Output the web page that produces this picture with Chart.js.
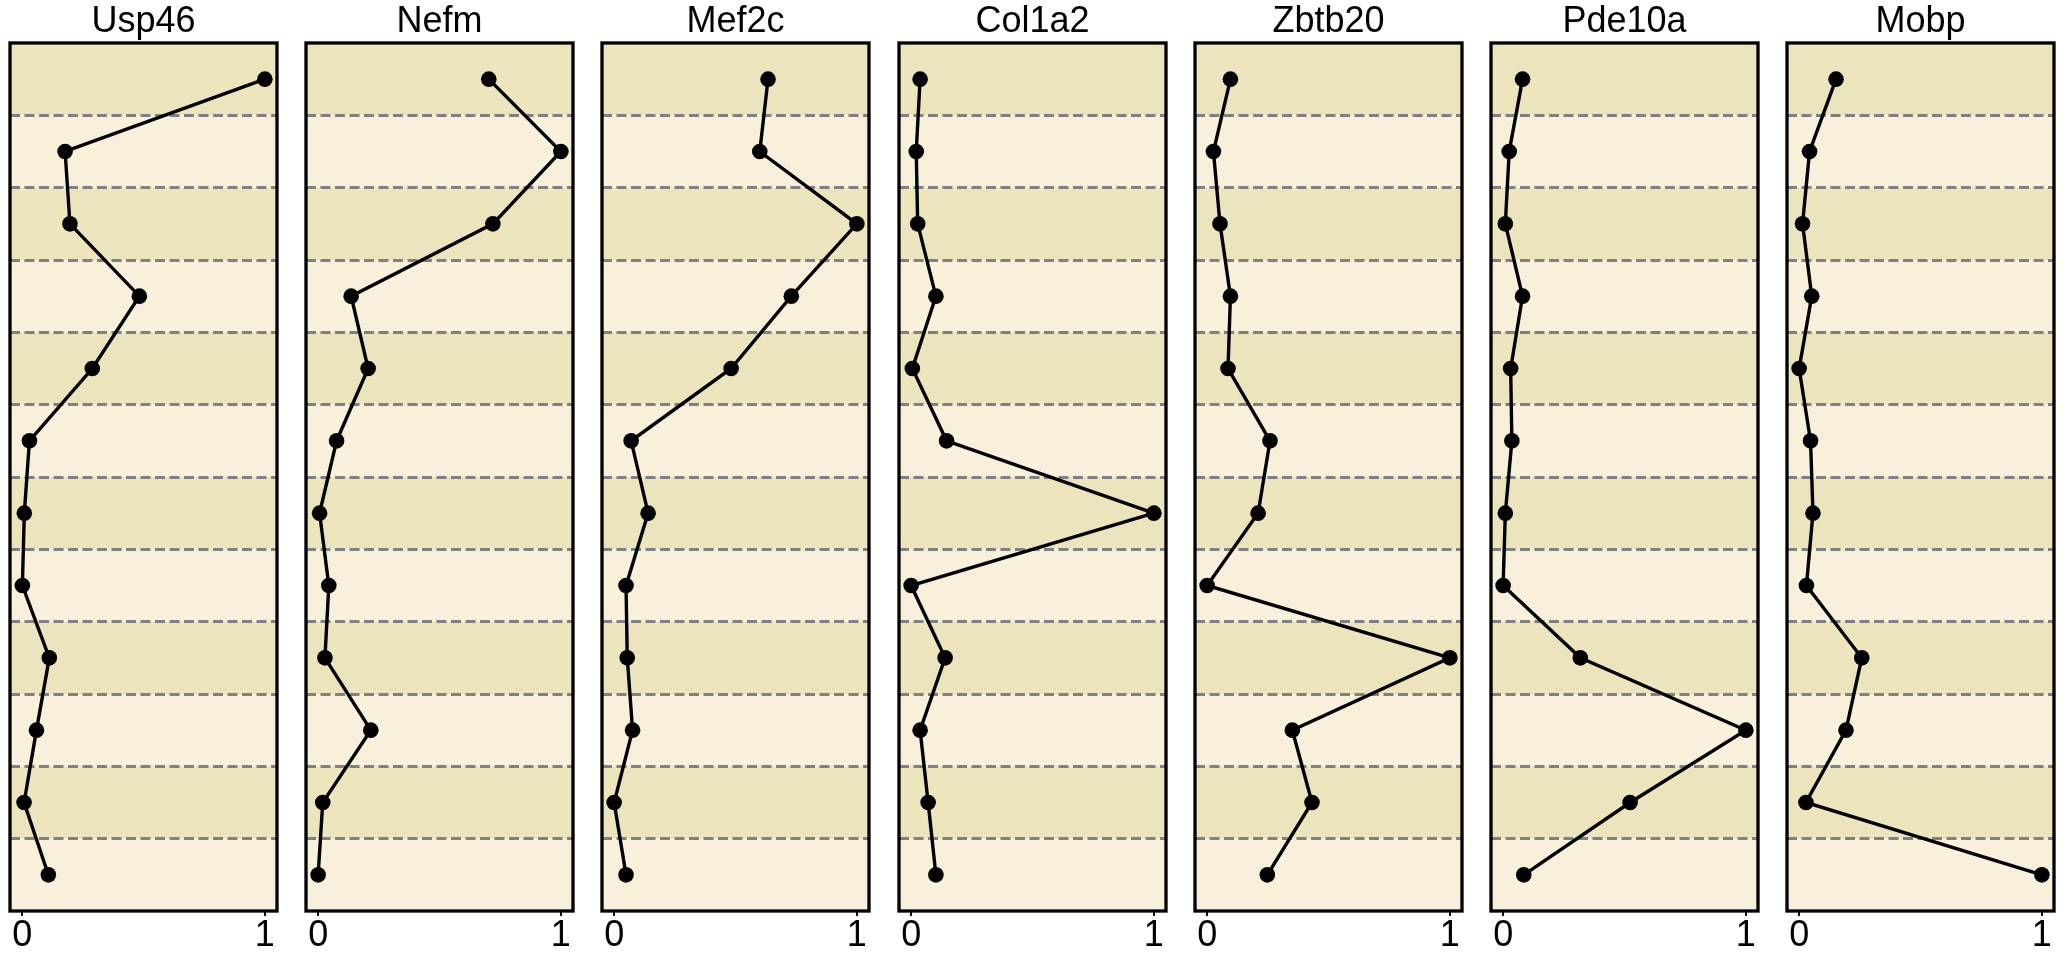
<!DOCTYPE html>
<html>
<head>
<meta charset="utf-8">
<script src="https://cdn.jsdelivr.net/npm/chart.js@4/dist/chart.umd.min.js"></script>
<style>
  html, body { margin: 0; padding: 0; background: #ffffff; }
  body { width: 2063px; height: 965px; position: relative; overflow: hidden; }
  canvas { position: absolute; top: 0; }
</style>
</head>
<body>
<script>
// ---- data ----
const genes = ["Usp46", "Nefm", "Mef2c", "Col1a2", "Zbtb20", "Pde10a", "Mobp"];
const rows = [1, 2, 3, 4, 5, 6, 7, 8, 9, 10, 11, 12];
const xTicks = [0, 1];

const usp46  = [1.0, 0.177, 0.197, 0.483, 0.289, 0.030, 0.009, 0.001, 0.112, 0.059, 0.008, 0.108];
const nefm   = [0.703, 1.0, 0.720, 0.136, 0.206, 0.076, 0.006, 0.044, 0.028, 0.217, 0.019, 0.0];
const mef2c  = [0.634, 0.600, 1.0, 0.730, 0.482, 0.070, 0.140, 0.049, 0.054, 0.076, 0.0, 0.049];
const col1a2 = [0.037, 0.021, 0.027, 0.102, 0.005, 0.146, 1.0, 0.0, 0.140, 0.037, 0.070, 0.102];
const zbtb20 = [0.096, 0.026, 0.053, 0.096, 0.086, 0.259, 0.210, 0.0, 1.0, 0.351, 0.432, 0.248];
const pde10a = [0.080, 0.025, 0.009, 0.080, 0.031, 0.036, 0.009, 0.0, 0.318, 1.0, 0.523, 0.085];
const mobp   = [0.152, 0.043, 0.014, 0.052, 0.0, 0.047, 0.057, 0.030, 0.258, 0.193, 0.028, 1.0];

const seriesList = [usp46, nefm, mef2c, col1a2, zbtb20, pde10a, mobp];

// ---- style / layout ----
const FONT = "'Liberation Sans', Arial, sans-serif";
const BAND_DARK = "#ECE4BC";
const BAND_LIGHT = "#F9F0DB";
const PANEL_W = 267;
const PAD = 15;
const PITCH = 296.17;
const FIRST_LEFT = 10;

const bandsPlugin = {
  id: 'bands',
  beforeDraw(chart) {
    const { ctx, chartArea } = chart;
    const y = chart.scales.y;
    ctx.save();
    rows.forEach((r, i) => {
      const top = y.getPixelForValue(r - 1);
      const bot = y.getPixelForValue(r);
      ctx.fillStyle = (i % 2 === 0) ? BAND_DARK : BAND_LIGHT;
      ctx.fillRect(chartArea.left, top, chartArea.right - chartArea.left, bot - top);
    });
    ctx.restore();
  }
};

const framePlugin = {
  id: 'frame',
  afterDraw(chart) {
    const { ctx, chartArea } = chart;
    ctx.save();
    ctx.strokeStyle = '#000000';
    ctx.lineWidth = 3.3;
    ctx.setLineDash([]);
    ctx.strokeRect(chartArea.left, chartArea.top, chartArea.right - chartArea.left, chartArea.bottom - chartArea.top);
    ctx.restore();
  }
};

genes.forEach((gene, gi) => {
  const canvas = document.createElement('canvas');
  const panelLeft = Math.round(FIRST_LEFT + PITCH * gi);
  canvas.width = PANEL_W + 2 * PAD;
  canvas.height = 965;
  canvas.style.left = (panelLeft - PAD) + 'px';
  canvas.style.width = (PANEL_W + 2 * PAD) + 'px';
  canvas.style.height = '965px';
  document.body.appendChild(canvas);

  const values = seriesList[gi];
  const points = values.map((v, i) => ({ x: v, y: rows[i] - 0.5 }));

  new Chart(canvas, {
    type: 'scatter',
    data: {
      datasets: [{
        data: points,
        showLine: true,
        borderColor: '#000000',
        borderWidth: 3.4,
        backgroundColor: '#000000',
        pointBackgroundColor: '#000000',
        pointBorderColor: '#000000',
        pointRadius: 7.8,
        pointBorderWidth: 0,
        tension: 0,
        clip: false
      }]
    },
    options: {
      responsive: false,
      animation: false,
      devicePixelRatio: 1,
      events: [],
      layout: { padding: { left: PAD, right: PAD, top: 0, bottom: 0 } },
      plugins: {
        legend: { display: false },
        tooltip: { enabled: false },
        title: {
          display: true,
          text: gene,
          color: '#000000',
          font: { family: FONT, size: 36, weight: 'normal', lineHeight: 1.0 },
          padding: { top: 4.5, bottom: 2.5 }
        }
      },
      scales: {
        x: {
          type: 'linear',
          min: -0.05,
          max: 1.05,
          afterBuildTicks(scale) { scale.ticks = xTicks.map(v => ({ value: v })); },
          afterFit(scale) { scale.height = 965 - 911; },
          ticks: {
            color: '#000000',
            font: { family: FONT, size: 36, lineHeight: 1.0 },
            padding: 2,
            maxRotation: 0,
            autoSkip: false,
            callback: (v) => String(v)
          },
          grid: {
            display: true,
            drawOnChartArea: false,
            drawTicks: true,
            tickLength: 5,
            color: '#000000',
            lineWidth: 2
          },
          border: { display: false }
        },
        y: {
          type: 'linear',
          min: 0,
          max: 12,
          reverse: true,
          afterFit(scale) { scale.width = 0; },
          ticks: { display: false, stepSize: 1 },
          grid: {
            display: true,
            drawTicks: false,
            color: (ctx) => (ctx.tick && (ctx.tick.value === 0 || ctx.tick.value === 12)) ? 'rgba(0,0,0,0)' : '#808080',
            lineWidth: 3
          },
          border: { display: false, dash: [10, 4.5] }
        }
      }
    },
    plugins: [bandsPlugin, framePlugin]
  });
});
</script>
</body>
</html>
